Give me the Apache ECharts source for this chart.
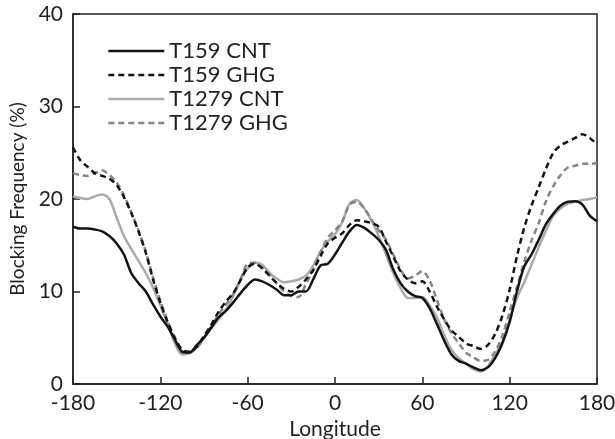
<!DOCTYPE html>
<html>
<head>
<meta charset="utf-8">
<script src="https://cdn.jsdelivr.net/npm/echarts@6/dist/echarts.min.js"></script>
<style>
html,body{margin:0;padding:0;background:#fff;}
#main{width:615px;height:439px;}
</style>
</head>
<body>
<div id="main"></div>
<script>
// longitude every 5 degrees, -180..180
var lons = [];
for (var l = -180; l <= 180; l += 5) lons.push(l);

var t159cnt = [17.0,16.8,16.8,16.7,16.5,16.0,15.2,14.0,12.0,10.9,10.0,8.6,7.3,6.2,4.8,3.5,3.4,4.2,5.0,6.1,7.2,7.9,8.8,9.8,10.7,11.3,11.1,10.7,10.2,9.6,9.6,10.0,10.0,11.3,12.8,13.0,
  14.0,15.3,16.5,17.2,16.9,16.3,15.6,14.5,12.4,10.9,10.0,9.5,9.3,8.2,6.5,4.7,3.2,2.5,2.2,1.8,1.5,1.8,2.8,4.4,6.7,10.0,12.7,14.0,15.6,17.3,18.4,19.3,19.7,19.75,19.4,18.2,17.6];
var t159ghg = [25.6,24.2,23.5,22.8,22.5,22.2,21.5,20.2,18.5,16.5,14.2,11.3,8.8,6.7,5.0,3.7,3.5,4.0,5.2,6.4,7.8,8.9,9.8,11.2,12.6,13.0,12.5,11.7,10.9,10.3,10.0,10.5,11.3,12.3,13.8,15.2,
  15.8,16.3,17.2,17.7,17.6,17.4,17.0,15.4,13.8,12.2,11.3,10.9,11.1,10.0,8.4,7.0,5.8,5.1,4.4,4.1,3.8,4.2,5.4,7.4,10.2,13.8,16.9,19.3,21.3,23.3,25.0,25.8,26.2,26.6,27.0,26.6,25.9];
var t1279cnt = [20.3,20.1,20.0,20.3,20.5,20.0,18.0,16.0,14.6,13.3,12.0,10.4,8.5,6.5,4.4,3.2,3.3,4.0,5.0,6.0,7.0,8.0,9.5,11.2,12.5,13.1,12.9,12.0,11.4,11.0,11.1,11.3,11.7,12.8,14.3,15.4,
  16.2,17.5,19.5,19.9,19.0,17.7,16.0,14.0,12.0,10.4,9.3,9.3,9.4,8.5,7.2,5.3,3.7,2.8,2.2,1.6,1.35,1.9,3.2,4.6,7.0,9.3,11.0,12.9,14.8,16.6,18.2,19.0,19.5,19.7,19.9,20.0,20.2];
var t1279ghg = [22.8,22.6,22.5,22.8,23.1,22.6,21.8,20.4,18.6,16.6,14.3,11.5,9.0,6.8,4.8,3.4,3.4,3.9,5.0,6.2,7.5,8.6,9.7,11.3,13.0,13.1,12.6,11.8,10.9,10.0,9.5,9.4,10.8,12.3,14.2,15.8,
  16.6,17.6,19.4,19.7,19.0,17.8,16.6,15.6,14.0,12.4,11.4,11.7,12.2,11.2,9.1,7.0,5.5,4.4,3.4,2.9,2.5,2.6,3.5,5.2,7.8,10.5,13.2,15.5,17.4,19.8,21.4,22.6,23.4,23.6,23.8,23.8,23.9];

function pairs(vals) {
  var out = [];
  for (var i = 0; i < lons.length; i++) out.push([lons[i], vals[i]]);
  return out;
}

var font = 'Lato';
var myChart = echarts.init(document.getElementById('main'));

function mkSeries(name, vals, color, dashed) {
  return {
    name: name,
    type: 'line',
    data: pairs(vals),
    showSymbol: false,
    symbol: 'none',
    smooth: 0.3,
    lineStyle: { color: color, width: 2.5, type: dashed ? [6, 4] : 'solid' },
    itemStyle: { color: color },
    animation: false
  };
}

var option = {
  backgroundColor: '#fff',
  grid: { left: 73, right: 18, top: 14, bottom: 55, outerBoundsMode: 'none', show: true, borderColor: '#222', borderWidth: 1.5 },
  legend: {
    orient: 'vertical',
    left: 102,
    top: 35,
    itemWidth: 56,
    itemHeight: 14,
    itemGap: 2,
    itemStyle: { opacity: 0 },
    lineStyle: { width: 2.6 },
    textStyle: { fontFamily: font, fontSize: 22, color: '#222' },
    data: ['T159 CNT', 'T159 GHG', 'T1279 CNT', 'T1279 GHG']
  },
  xAxis: {
    type: 'value',
    min: -180, max: 180, interval: 60,
    name: 'Longitude',
    nameLocation: 'middle',
    nameGap: 32,
    nameTextStyle: { fontFamily: font, fontSize: 21, color: '#222' },
    axisLine: { onZero: false, lineStyle: { color: '#222', width: 1.5 } },
    axisTick: { inside: true, length: 7, lineStyle: { color: '#222', width: 1.5 } },
    axisLabel: { fontFamily: font, fontSize: 21, color: '#222', margin: 9 },
    splitLine: { show: false }
  },
  yAxis: {
    type: 'value',
    min: 0, max: 40, interval: 10,
    name: 'Blocking Frequency (%)',
    nameLocation: 'middle',
    nameGap: 46,
    nameTextStyle: { fontFamily: font, fontSize: 19, color: '#222' },
    axisLine: { onZero: false, lineStyle: { color: '#222', width: 1.5 } },
    axisTick: { inside: true, length: 7, lineStyle: { color: '#222', width: 1.5 } },
    axisLabel: { fontFamily: font, fontSize: 21, color: '#222', margin: 10 },
    splitLine: { show: false }
  },
  series: [
    mkSeries('T1279 CNT', t1279cnt, '#ababab', false),
    mkSeries('T1279 GHG', t1279ghg, '#858585', true),
    mkSeries('T159 CNT', t159cnt, '#141414', false),
    mkSeries('T159 GHG', t159ghg, '#141414', true)
  ]
};
myChart.setOption(option);
</script>
</body>
</html>
